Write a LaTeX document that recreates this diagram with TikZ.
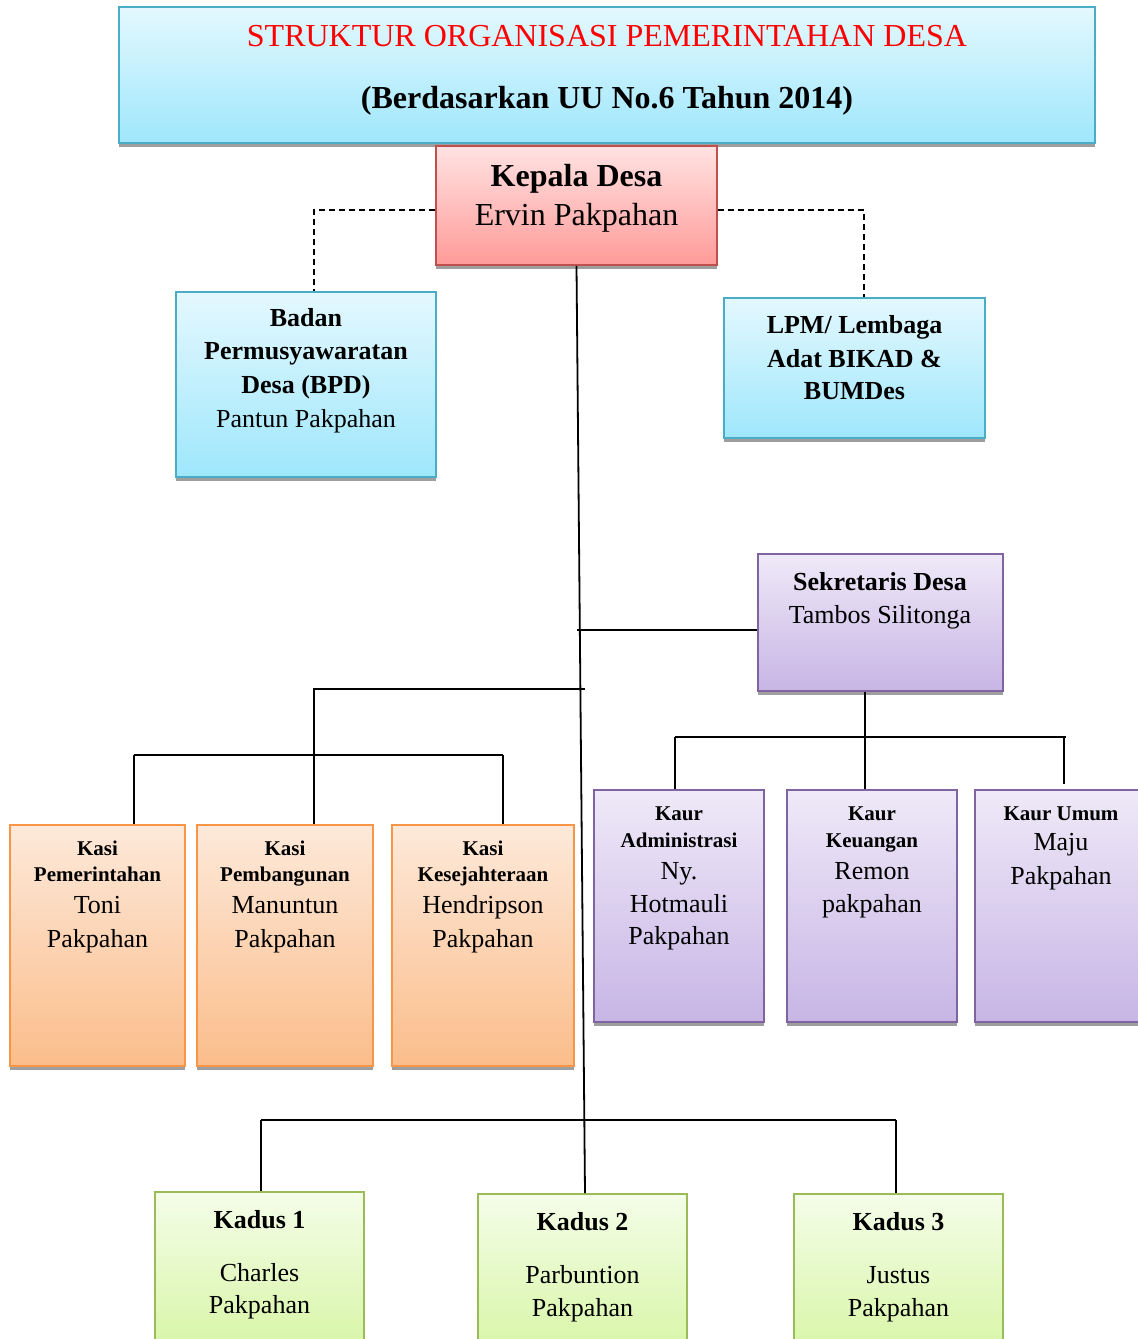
\documentclass[tikz,border=0pt]{standalone}
\usepackage{fontspec}
\setmainfont{Liberation Serif}
\usetikzlibrary{shadows}
\definecolor{bluD}{RGB}{75,172,198}
\definecolor{bluT}{RGB}{228,248,254}
\definecolor{bluB}{RGB}{158,231,252}
\definecolor{redD}{RGB}{192,80,77}
\definecolor{redT}{RGB}{255,226,226}
\definecolor{redB}{RGB}{255,155,153}
\definecolor{purD}{RGB}{128,100,162}
\definecolor{purT}{RGB}{239,233,248}
\definecolor{purB}{RGB}{199,181,229}
\definecolor{oraD}{RGB}{247,150,70}
\definecolor{oraT}{RGB}{253,233,218}
\definecolor{oraB}{RGB}{251,189,138}
\definecolor{grnD}{RGB}{155,187,89}
\definecolor{grnT}{RGB}{244,253,232}
\definecolor{grnB}{RGB}{214,245,162}
\newcommand\myfs[1]{\fontsize{#1}{#1}\selectfont}
\begin{document}
\begin{tikzpicture}[x=1pt,y=-1pt]
\tikzset{
 bx/.style={draw, line width=1.6pt, inner sep=0pt,
   drop shadow={shadow xshift=0pt, shadow yshift=-4pt, fill=black!38, opacity=1}},
 blu/.style={bx, draw=bluD, top color=bluT, bottom color=bluB},
 rd/.style={bx, draw=redD, top color=redT, bottom color=redB},
 pur/.style={bx, draw=purD, top color=purT, bottom color=purB},
 ora/.style={bx, draw=oraD, top color=oraT, bottom color=oraB},
 grn/.style={bx, draw=grnD, top color=grnT, bottom color=grnB},
 t/.style={anchor=base, inner sep=0pt},
 conn/.style={line width=1.8pt},
 dconn/.style={line width=1.5pt, dash pattern=on 6pt off 4pt}
}
\useasboundingbox (0,0) rectangle (1138,1339);
\clip (0,0) rectangle (1138,1339);

% boxes
\node[blu, minimum width=976, minimum height=136] (title) at (607,75) {};
\node[rd, minimum width=281, minimum height=119] (kepala) at (576.5,205.5) {};
\node[blu, minimum width=260, minimum height=185] (bpd) at (306,384.5) {};
\node[blu, minimum width=261, minimum height=140] (lpm) at (854.5,368) {};
\node[pur, minimum width=245, minimum height=137] (sek) at (880.5,622.5) {};
\node[ora, minimum width=175, minimum height=241] (kasi1) at (97.5,945.5) {};
\node[ora, minimum width=176, minimum height=241] (kasi2) at (285,945.5) {};
\node[ora, minimum width=182, minimum height=241] (kasi3) at (483,945.5) {};
\node[pur, minimum width=170, minimum height=232] (kaur1) at (679,906) {};
\node[pur, minimum width=170, minimum height=232] (kaur2) at (872,906) {};
\node[pur, minimum width=170, minimum height=232] (kaur3) at (1060,906) {};
\node[grn, minimum width=209, minimum height=168] (kadus1) at (259.5,1276) {};
\node[grn, minimum width=209, minimum height=168] (kadus2) at (582.5,1278) {};
\node[grn, minimum width=209, minimum height=168] (kadus3) at (898.5,1278) {};

% texts
\node[t, font=\myfs{32}, text=red] (tt1) at (607,46) {STRUKTUR ORGANISASI PEMERINTAHAN DESA};
\node[t, font=\myfs{32}\bfseries] (tt2) at (607,108) {(Berdasarkan UU No.6 Tahun 2014)};

\node[t, font=\myfs{32}\bfseries] (kp1) at (576.5,186) {Kepala Desa};
\node[t, font=\myfs{32}] (kp2) at (576.5,225) {Ervin Pakpahan};

\node[t, font=\myfs{26}\bfseries] (bp1) at (306,326) {Badan};
\node[t, font=\myfs{26}\bfseries] (bp2) at (306,359) {Permusyawaratan};
\node[t, font=\myfs{26}\bfseries] (bp3) at (306,393) {Desa (BPD)};
\node[t, font=\myfs{26}] (bp4) at (306,427) {Pantun Pakpahan};

\node[t, font=\myfs{26}\bfseries] (lp1) at (854.5,333) {LPM/ Lembaga};
\node[t, font=\myfs{26}\bfseries] (lp2) at (854.5,367) {Adat BIKAD \&};
\node[t, font=\myfs{26}\bfseries] (lp3) at (854.5,399) {BUMDes};

\node[t, font=\myfs{26}\bfseries] (sk1) at (880,590) {Sekretaris Desa};
\node[t, font=\myfs{26}] (sk2) at (880,623) {Tambos Silitonga};

\node[t, font=\myfs{21}\bfseries] (ka1a) at (97.5,855) {Kasi};
\node[t, font=\myfs{21}\bfseries] (ka1b) at (97.5,881) {Pemerintahan};
\node[t, font=\myfs{26}] (ka1c) at (97.5,913) {Toni};
\node[t, font=\myfs{26}] (ka1d) at (97.5,947) {Pakpahan};

\node[t, font=\myfs{21}\bfseries] (ka2a) at (285,855) {Kasi};
\node[t, font=\myfs{21}\bfseries] (ka2b) at (285,881) {Pembangunan};
\node[t, font=\myfs{26}] (ka2c) at (285,913) {Manuntun};
\node[t, font=\myfs{26}] (ka2d) at (285,947) {Pakpahan};

\node[t, font=\myfs{21}\bfseries] (ka3a) at (483,855) {Kasi};
\node[t, font=\myfs{21}\bfseries] (ka3b) at (483,881) {Kesejahteraan};
\node[t, font=\myfs{26}] (ka3c) at (483,913) {Hendripson};
\node[t, font=\myfs{26}] (ka3d) at (483,947) {Pakpahan};

\node[t, font=\myfs{21}\bfseries] (ku1a) at (679,820) {Kaur};
\node[t, font=\myfs{21}\bfseries] (ku1b) at (679,847) {Administrasi};
\node[t, font=\myfs{26}] (ku1c) at (679,879) {Ny.};
\node[t, font=\myfs{26}] (ku1d) at (679,912) {Hotmauli};
\node[t, font=\myfs{26}] (ku1e) at (679,944) {Pakpahan};

\node[t, font=\myfs{21}\bfseries] (ku2a) at (872,820) {Kaur};
\node[t, font=\myfs{21}\bfseries] (ku2b) at (872,847) {Keuangan};
\node[t, font=\myfs{26}] (ku2c) at (872,879) {Remon};
\node[t, font=\myfs{26}] (ku2d) at (872,912) {pakpahan};

\node[t, font=\myfs{21}\bfseries] (ku3a) at (1061,820) {Kaur Umum};
\node[t, font=\myfs{26}] (ku3b) at (1061,850) {Maju};
\node[t, font=\myfs{26}] (ku3c) at (1061,884) {Pakpahan};

\node[t, font=\myfs{26}\bfseries] (kd1a) at (259.5,1228) {Kadus 1};
\node[t, font=\myfs{26}] (kd1b) at (259.5,1281) {Charles};
\node[t, font=\myfs{26}] (kd1c) at (259.5,1313) {Pakpahan};

\node[t, font=\myfs{26}\bfseries] (kd2a) at (582.5,1230) {Kadus 2};
\node[t, font=\myfs{26}] (kd2b) at (582.5,1283) {Parbuntion};
\node[t, font=\myfs{26}] (kd2c) at (582.5,1316) {Pakpahan};

\node[t, font=\myfs{26}\bfseries] (kd3a) at (898.5,1230) {Kadus 3};
\node[t, font=\myfs{26}] (kd3b) at (898.5,1283) {Justus};
\node[t, font=\myfs{26}] (kd3c) at (898.5,1316) {Pakpahan};

% connectors
\draw[dconn] ([yshift=-4.5pt]kepala.west) -| ([xshift=8pt]bpd.north);
\draw[dconn] ([yshift=-4.5pt]kepala.east) -| ([xshift=9.5pt]lpm.north);
\draw[conn] (kepala.south) -- ([xshift=2.5pt]kadus2.north);

\coordinate (j1) at (577,630);
\draw[conn] (j1) -- (j1 -| sek.west);

\coordinate (j2) at (585,689);
\coordinate (kb1) at (134,755);
\coordinate (kb2) at (503,755);
\draw[conn] (j2) -| ([xshift=29pt]kasi2.north);
\draw[conn] (kb1) -- (kb2);
\draw[conn] (kb1) -- (kb1 |- kasi1.north);
\draw[conn] (kb2) -- (kb2 |- kasi3.north);

\coordinate (sb) at (865,737);
\coordinate (sb1) at (675,737);
\coordinate (sb2) at (1066,737);
\draw[conn] (sb |- sek.south) -- (sb |- kaur2.north);
\draw[conn] (sb1) -- (sb2);
\draw[conn] (sb1) -- (sb1 |- kaur1.north);
\draw[conn] (1064,737) -- (1064,784);

\coordinate (db1) at (261,1120);
\coordinate (db2) at (896,1120);
\draw[conn] (db1) -- (db2);
\draw[conn] (db1) -- (db1 |- kadus1.north);
\draw[conn] (db2) -- (db2 |- kadus3.north);
\end{tikzpicture}
\end{document}
